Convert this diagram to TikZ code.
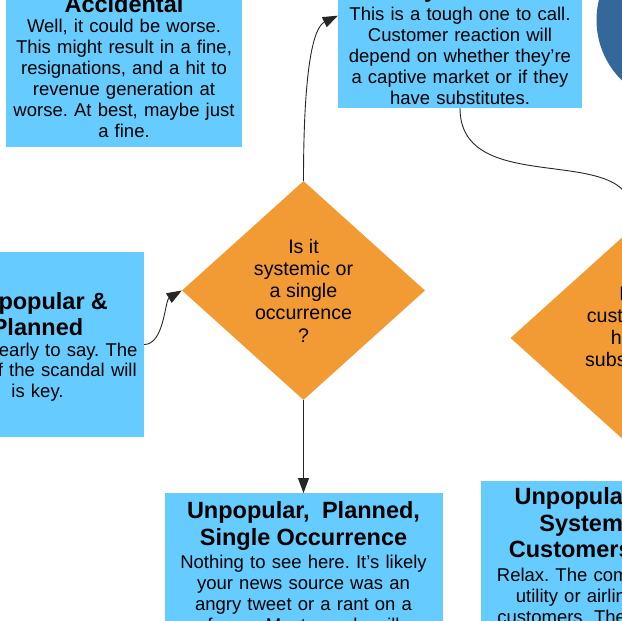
\documentclass[tikz,border=0pt]{standalone}
\usepackage{fontspec}
\setmainfont{Liberation Sans}
\usetikzlibrary{shapes.geometric,arrows.meta}
\definecolor{boxblue}{HTML}{66CCFF}
\definecolor{dorange}{HTML}{F29B34}
\definecolor{cblue}{HTML}{34679A}
\frenchspacing
\newcommand\hdln[2][2pt]{{\fontsize{23.5}{26.5}\selectfont\bfseries #2\par}\vspace{#1}}
\tikzset{
  infobox/.style={fill=boxblue, draw=none, align=center, inner xsep=2pt, text=black,
    font=\fontsize{18.5}{21}\selectfont},
  decision/.style={diamond, fill=dorange, draw=none, minimum width=243pt, minimum height=219pt,
    inner sep=0pt, align=center, text=black, font=\fontsize{19.6}{22.25}\selectfont},
  link/.style={draw=black!85, line width=0.9pt, -{Triangle[length=15pt,width=11pt]}}
}
\begin{document}
\begin{tikzpicture}[x=1pt,y=-1pt]
\useasboundingbox (0,0) rectangle (622,621);
\clip (0,0) rectangle (622,621);

\node[circle, fill=cblue, minimum size=169pt, inner sep=0pt] (start) at (681,20) {};

\node[infobox, text width=232pt, anchor=south, inner ysep=9pt] (acc) at (124,147)
  {\hdln[-1pt]{Unpopular \&\\Accidental}Well, it could be worse.\\This might result in a fine,\\resignations, and a hit to\\revenue generation at\\worse. At best, maybe just\\a fine.};

\node[infobox, text width=240pt, anchor=south, inner ysep=3.5pt] (sys) at (460,108)
  {\hdln[3pt]{Unpopular,\\Planned,\\Systemic}\fontsize{18.5}{20.75}\selectfont This is a tough one to call.\\Customer reaction will\\depend on whether they’re\\a captive market or if they\\have substitutes.};

\node[infobox, text width=209pt, minimum height=185pt, inner ysep=0pt] (plan) at (37.5,344.5)
  {\hdln[0pt]{\rule{0pt}{22pt}Unpopular \&\\Planned}\fontsize{18.5}{20.5}\selectfont It’s too early to say. The\\scale of the scandal will\\is key.};

\node[infobox, text width=274pt, anchor=north, inner ysep=8.5pt] (single) at (303.5,493)
  {\hdln{Unpopular,~~Planned,\\Single Occurrence}Nothing to see here. It’s likely\\your news source was an\\angry tweet or a rant on a\\forum. Most people will};

\node[infobox, text width=289.6pt, anchor=north, inner ysep=6.5pt] (captive) at (628,481)
  {\hdln[3pt]{Unpopular, Planned,\\Systemic, Loyal\\Customers Are Stuck}Relax. The company is a public\\utility or airline with captive\\customers. They have nowhere};

\node[decision] (q1) at (303.5,290.5) {Is it\\systemic or\\a single\\occurrence\\?};
\node[decision] (q2) at (632,338) {Do\\customers\\have\\substitutes\\?};

\draw[link] (plan.east) .. controls +(20,0) and +(-17,10) .. (q1.west);
\draw[link] (q1.north) .. controls +(0,-110) and +(-25,12) .. (sys.west);
\draw[link] (q1.south) -- (single.north);
\draw[link] (sys.south) .. controls +(0,92) and +(0,-88) .. (q2.north);
\end{tikzpicture}
\end{document}
